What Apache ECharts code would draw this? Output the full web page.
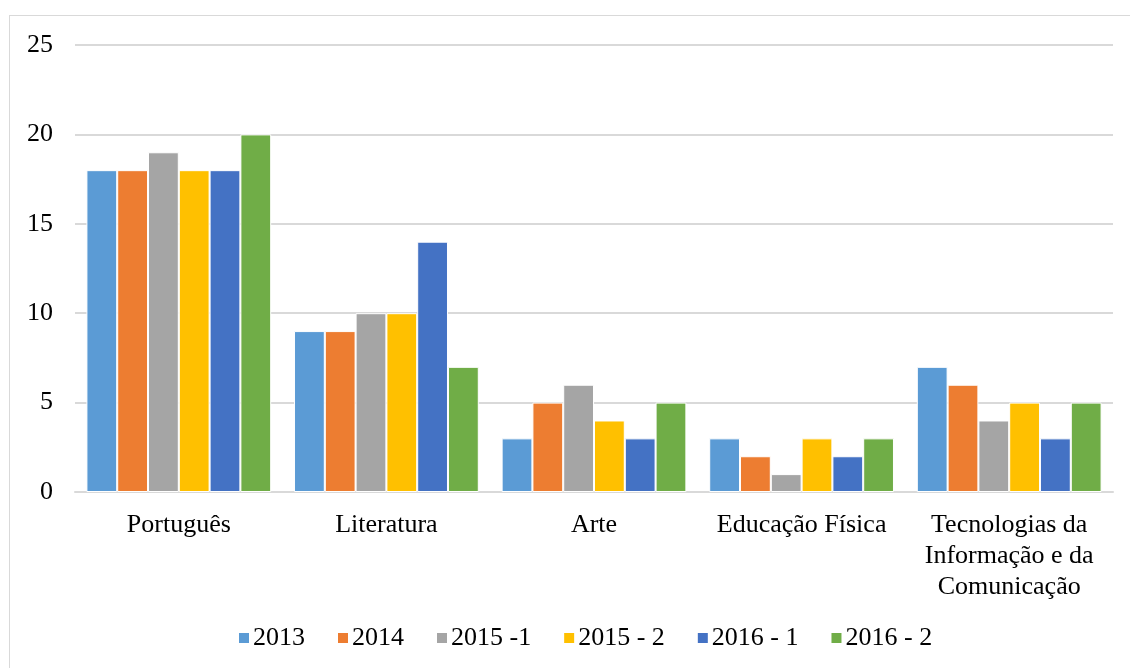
<!DOCTYPE html>
<html>
<head>
<meta charset="utf-8">
<script src="https://cdn.jsdelivr.net/npm/echarts@6/dist/echarts.min.js"></script>
<style>
  html, body { margin: 0; padding: 0; background: #fff; }
  #frame { position: absolute; left: 9px; top: 15px; width: 1140px; height: 700px; border: 1px solid #d9d9d9; }
  #chart { position: absolute; left: 0; top: 0; width: 1130px; height: 668px; }
</style>
</head>
<body>
<div id="frame"></div>
<div id="chart"></div>
<script>
const categories = ["Português", "Literatura", "Arte", "Educação Física", "Tecnologias da\nInformação e da\nComunicação"];
const seriesNames = ["2013", "2014", "2015 -1", "2015 - 2", "2016 - 1", "2016 - 2"];
const colors = ["#5B9BD5", "#ED7D31", "#A5A5A5", "#FFC000", "#4472C4", "#70AD47"];
const values = [
  [18, 9, 3, 3, 7],
  [18, 9, 5, 2, 6],
  [19, 10, 6, 1, 4],
  [18, 10, 4, 3, 5],
  [18, 14, 3, 2, 3],
  [20, 7, 5, 3, 5]
];

const font = "'Liberation Serif', 'Times New Roman', serif";
const chart = echarts.init(document.getElementById("chart"));

chart.setOption({
  animation: false,
  textStyle: { fontFamily: font },
  legend: {
    bottom: 12,
    left: 232,
    itemWidth: 12,
    itemHeight: 12,
    itemGap: 31,
    icon: "rect",
    textStyle: { fontFamily: font, fontSize: 26, color: "#000", padding: [0, 0, 0, -2] },
    data: seriesNames
  },
  grid: { left: 75, right: 17, top: 45, bottom: 176 },
  xAxis: {
    type: "category",
    data: categories,
    axisLine: { lineStyle: { color: "#d9d9d9", width: 2 } },
    axisTick: { show: false },
    axisLabel: { interval: 0, fontFamily: font, fontSize: 26, color: "#000", margin: 18, lineHeight: 31 }
  },
  yAxis: {
    type: "value",
    min: 0,
    max: 25,
    interval: 5,
    axisLine: { show: false },
    axisTick: { show: false },
    splitLine: { lineStyle: { color: "#d9d9d9", width: 2 } },
    axisLabel: { fontFamily: font, fontSize: 26, color: "#000", margin: 22 }
  },
  series: seriesNames.map((name, i) => ({
    name: name,
    type: "bar",
    data: values[i],
    barGap: "0%",
    barCategoryGap: "11%",
    itemStyle: { color: colors[i], borderColor: "#fff", borderWidth: 1 }
  }))
});
</script>
</body>
</html>
